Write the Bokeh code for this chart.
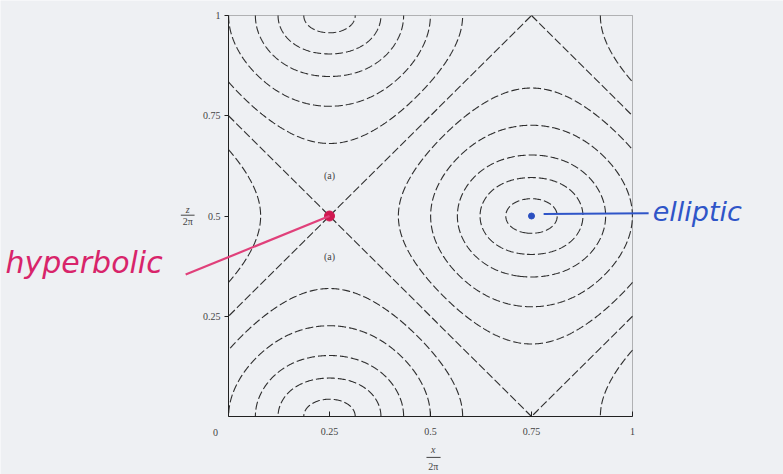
import numpy as np
import contourpy
from bokeh.plotting import figure
from bokeh.models import Range1d, FixedTicker, Label, Arrow, BoxAnnotation
from bokeh.embed import file_html
from bokeh.resources import INLINE

# ---- data ----
x_ticks = [0.25, 0.5, 0.75, 1]
x_tick_labels = ["0.25", "0.5", "0.75", "1"]
y_ticks = [0.25, 0.5, 0.75, 1]
y_tick_labels = ["0.25", "0.5", "0.75", "1"]
contour_levels = [-1.83, -1.70, -1.47, -1.07, -0.54, 0.0, 0.54, 1.07, 1.47, 1.70, 1.83]
hyperbolic_point = [0.25, 0.5]
elliptic_point = [0.75, 0.5]
aniso = 0.068

# ---- field whose level sets are drawn ----
gx = np.linspace(0, 1, 401)
gy = np.linspace(0, 1, 401)
X, Y = np.meshgrid(gx, gy)
H = (np.sin(2 * np.pi * X) + np.cos(2 * np.pi * Y)) * (1 + aniso * np.cos(4 * np.pi * X))

gen = contourpy.contour_generator(gx, gy, H, line_type="Separate")
xs, ys = [], []
for lev in contour_levels:
    for seg in gen.lines(lev):
        xs.append(seg[:, 0].tolist())
        ys.append(seg[:, 1].tolist())

BG = "#eef0f3"
W, Hh = 783, 474
L, R, T, B = 228, 632, 15, 416           # plot box in pixels
sx = (R - L)
sy = (B - T)
p = figure(width=W, height=Hh, output_backend="svg", toolbar_location=None,
           x_range=Range1d(-L / sx, (W - L) / sx), y_range=Range1d((B - Hh) / sy, B / sy),
           min_border=0, background_fill_color=BG, border_fill_color=BG)
p.outline_line_color = None
p.grid.visible = False

p.add_layout(BoxAnnotation(left=0, right=1, bottom=0, top=1, fill_color=None,
                           line_color="#222222", line_width=1))

p.multi_line(xs, ys, line_color="#2e2e2e", line_width=1.1, line_dash="8 3")

for ax, ticks, labels in ((p.xaxis[0], x_ticks, x_tick_labels), (p.yaxis[0], y_ticks, y_tick_labels)):
    ax.fixed_location = 0
    ax.bounds = (0, 1)
    ax.ticker = FixedTicker(ticks=ticks, minor_ticks=[])
    ax.major_label_overrides = {t: l for t, l in zip(ticks, labels)}
    ax.major_label_text_font = "Liberation Serif"
    ax.major_label_text_font_size = "10px"
    ax.major_label_text_color = "#444444"
    ax.axis_line_color = "#222222"
    ax.major_tick_line_color = "#222222"
    ax.minor_tick_line_color = None
p.xaxis.major_tick_in = 5
p.xaxis.major_tick_out = 0
p.xaxis.major_label_standoff = 11
p.yaxis.major_tick_in = 0
p.yaxis.major_tick_out = 4
p.yaxis.major_label_standoff = 4

def lab(x, y, text, size="10px", color="#444444", font="Liberation Serif", style="normal", align="center"):
    p.add_layout(Label(x=x, y=y, text=text, text_font=font, text_font_size=size,
                       text_color=color, text_font_style=style, text_align=align,
                       text_baseline="middle"))

# origin label and axis titles (fractions)
lab(-0.032, -0.04, "0")
lab(0.507, -0.083, "x", style="italic")
p.add_layout(Arrow(end=None, x_start=0.49, y_start=-0.102, x_end=0.525, y_end=-0.102,
                   line_color="#444444", line_width=1))
lab(0.507, -0.124, "2π")
lab(-0.101, 0.517, "z", style="italic")
p.add_layout(Arrow(end=None, x_start=-0.118, y_start=0.502, x_end=-0.084, y_end=0.502,
                   line_color="#444444", line_width=1))
lab(-0.101, 0.486, "2π")

# region labels
lab(0.25, 0.60, "(a)", size="10px")
lab(0.25, 0.40, "(a)", size="10px")

# handwritten annotations
p.add_layout(Arrow(end=None, x_start=-0.106, y_start=0.354, x_end=hyperbolic_point[0], y_end=hyperbolic_point[1],
                   line_color="#e0407a", line_width=2.2))
p.scatter([hyperbolic_point[0]], [hyperbolic_point[1]], size=10, color="#d01850")
lab(-0.552, 0.385, "hyperbolic", size="30px", color="#d8246a", font="DejaVu Sans", style="italic", align="left")

p.add_layout(Arrow(end=None, x_start=0.78, y_start=0.505, x_end=1.04, y_end=0.507,
                   line_color="#2f55c8", line_width=2))
p.scatter([elliptic_point[0]], [elliptic_point[1]], size=6, color="#2a4fc0")
lab(1.05, 0.51, "elliptic", size="27px", color="#2f55c8", font="DejaVu Sans", style="italic", align="left")

open("out.html", "w").write(file_html(p, INLINE))
